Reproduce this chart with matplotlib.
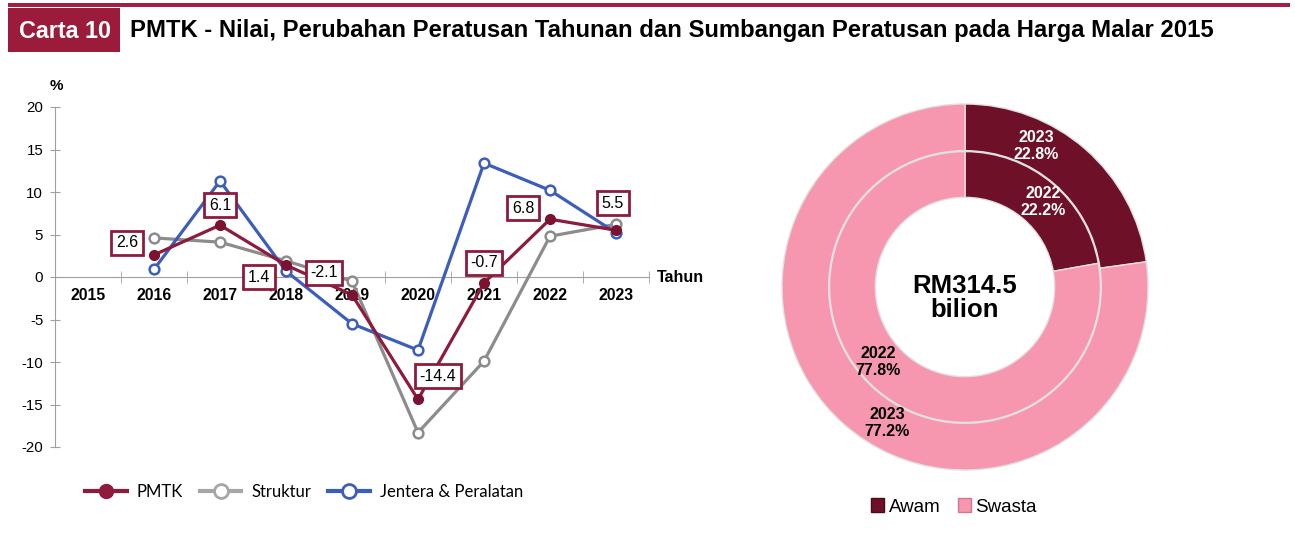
import matplotlib
matplotlib.use("Agg")
import matplotlib.pyplot as plt
from matplotlib.lines import Line2D
from matplotlib.patches import Patch, Rectangle

# --- data ---
years = ["2015", "2016", "2017", "2018", "2019", "2020", "2021", "2022", "2023"]
pmtk = [None, 2.6, 6.1, 1.4, -2.1, -14.4, -0.7, 6.8, 5.5]
struktur = [None, 4.6, 4.1, 1.9, -0.5, -18.3, -9.9, 4.8, 6.2]
jentera = [None, 0.9, 11.3, 0.7, -5.5, -8.6, 13.4, 10.2, 5.2]

# label box offsets (pixels) for PMTK values
label_offsets = [None, (-27, 12), (0, 20), (-27, -12), (-28, 22), (20, 23), (0, 20), (-27, 11), (-3, 27)]

share_labels = ["Awam", "Swasta"]
share_2022 = [22.2, 77.8]
share_2023 = [22.8, 77.2]
total_text = "RM314.5\nbilion"

MAROON = "#8E1A3C"
MAROON_DARK = "#7A1230"
GREY = "#8C8C8C"
BLUE = "#3C5DBA"
AWAM = "#6E1128"
SWASTA = "#F797AF"

plt.rcParams["font.family"] = ["Liberation Sans", "DejaVu Sans"]
plt.rcParams["axes.unicode_minus"] = False

W, H = 1295, 533
fig = plt.figure(figsize=(W / 100, H / 100), dpi=100)


def px(x, y):
    # pixel position (from top-left) -> figure fraction
    return x / W, 1 - y / H


# --- header ---
fig.patches.append(Rectangle(px(8, 7), (1290 - 8) / W, 4 / H, transform=fig.transFigure,
                             color="#A31D45", lw=0))
fig.patches.append(Rectangle(px(8, 52), 112 / W, 44 / H, transform=fig.transFigure,
                             color="#9B1B3A", lw=0))
fig.text(*px(65, 31), "Carta 10", color="white", fontsize=16.8, fontweight="bold",
         ha="center", va="center")
fig.text(*px(130, 31), "PMTK - Nilai, Perubahan Peratusan Tahunan dan Sumbangan Peratusan pada Harga Malar 2015",
         color="black", fontsize=17.2, fontweight="bold", ha="left", va="center")

# --- line chart ---
ax = fig.add_axes([55 / W, (H - 447) / H, (649 - 55) / W, 340 / H])
x = list(range(len(years)))


def series(vals):
    xs = [i for i, v in zip(x, vals) if v is not None]
    ys = [v for v in vals if v is not None]
    return xs, ys


xs, ys = series(struktur)
ax.plot(xs, ys, color=GREY, lw=2.3, marker="o", ms=7, mfc="white", mec=GREY, mew=1.8, zorder=3)
xs, ys = series(jentera)
ax.plot(xs, ys, color=BLUE, lw=2.3, marker="o", ms=7, mfc="white", mec=BLUE, mew=1.8, zorder=4)
xs, ys = series(pmtk)
ax.plot(xs, ys, color=MAROON, lw=2.3, marker="o", ms=7, mfc=MAROON_DARK, mec=MAROON_DARK, zorder=5)

for i, v in enumerate(pmtk):
    if v is None:
        continue
    ax.annotate(f"{v:.1f}", xy=(i, v), xytext=label_offsets[i], textcoords="offset pixels",
                ha="center", va="center", fontsize=11.5, zorder=6,
                bbox=dict(boxstyle="square,pad=0.28", fc="white", ec=MAROON, lw=2))

# spine position first: moving it resets the ticks
for s in ["top", "right"]:
    ax.spines[s].set_visible(False)
ax.spines["bottom"].set_position(("data", 0))
ax.spines["bottom"].set_color("#A0A0A0")
ax.spines["left"].set_color("#A0A0A0")
ax.set_facecolor("none")

ax.set_xlim(-0.5, len(years) - 0.5)
ax.set_ylim(-20, 20)
ax.set_yticks(range(-20, 21, 5))
ax.tick_params(axis="y", labelsize=10.8, direction="inout", length=7, color="#A0A0A0", pad=5)
ax.set_xticks([i - 0.5 for i in range(len(years) + 1)], minor=True)
ax.tick_params(axis="x", which="major", length=0, pad=8, labelsize=11.3)
ax.tick_params(axis="x", which="minor", direction="inout", length=9, color="#A0A0A0")
ax.set_xticks(x, labels=years)
for lbl in ax.get_xticklabels():
    lbl.set_fontweight("bold")

ax.annotate("Tahun", xy=(len(years) - 0.5, 0), xytext=(8, 0), textcoords="offset pixels",
            ha="left", va="center", fontsize=11.5, fontweight="bold")
fig.text(*px(56, 86), "%", fontsize=11, fontweight="bold", ha="center", va="center")

handles = [
    Line2D([], [], color=MAROON, lw=3, marker="o", ms=10, mfc=MAROON, mec=MAROON),
    Line2D([], [], color="#A6A6A6", lw=3, marker="o", ms=10, mfc="white", mec="#A6A6A6", mew=2),
    Line2D([], [], color=BLUE, lw=3, marker="o", ms=10, mfc="white", mec=BLUE, mew=2),
]
fig.legend(handles, ["PMTK", "Struktur", "Jentera & Peralatan"], loc="center",
           bbox_to_anchor=px(304, 492), ncol=3, frameon=False, handlelength=2.5,
           columnspacing=1.0, handletextpad=0.6, prop={"family": "Lato", "size": 12})

# --- donut ---
dax = fig.add_axes([782 / W, (H - 470) / H, 366 / W, 366 / H])
dax.pie(share_2023, radius=1.0, startangle=90, counterclock=False, colors=[AWAM, SWASTA],
        wedgeprops=dict(width=0.255, edgecolor="#E0E0E0", linewidth=1))
dax.pie(share_2022, radius=0.74, startangle=90, counterclock=False, colors=[AWAM, SWASTA],
        wedgeprops=dict(width=0.25, edgecolor="#E0E0E0", linewidth=1))
dax.set_xlim(-1, 1)
dax.set_ylim(-1, 1)
dax.set_aspect("equal")
dax.axis("off")

fig.text(*px(1036, 146), f"2023\n{share_2023[0]}%", color="white", fontsize=11.5,
         fontweight="bold", ha="center", va="center", linespacing=1.1)
fig.text(*px(1043, 202), f"2022\n{share_2022[0]}%", color="white", fontsize=11.5,
         fontweight="bold", ha="center", va="center", linespacing=1.1)
fig.text(*px(878, 362), f"2022\n{share_2022[1]}%", color="black", fontsize=11.5,
         fontweight="bold", ha="center", va="center", linespacing=1.1)
fig.text(*px(887, 423), f"2023\n{share_2023[1]}%", color="black", fontsize=11.5,
         fontweight="bold", ha="center", va="center", linespacing=1.1)
fig.text(*px(965, 298), total_text, color="black", fontsize=18.5, fontweight="bold",
         ha="center", va="center", linespacing=1.05)

phandles = [Patch(fc=AWAM, ec="#4A0A1A"), Patch(fc=SWASTA, ec="#D07890")]
fig.legend(phandles, share_labels, loc="center", bbox_to_anchor=px(954, 507), ncol=2,
           frameon=False, fontsize=13.5, handlelength=0.7, handleheight=0.7,
           handletextpad=0.25, columnspacing=0.9)

fig.savefig("out.png", dpi=100)
